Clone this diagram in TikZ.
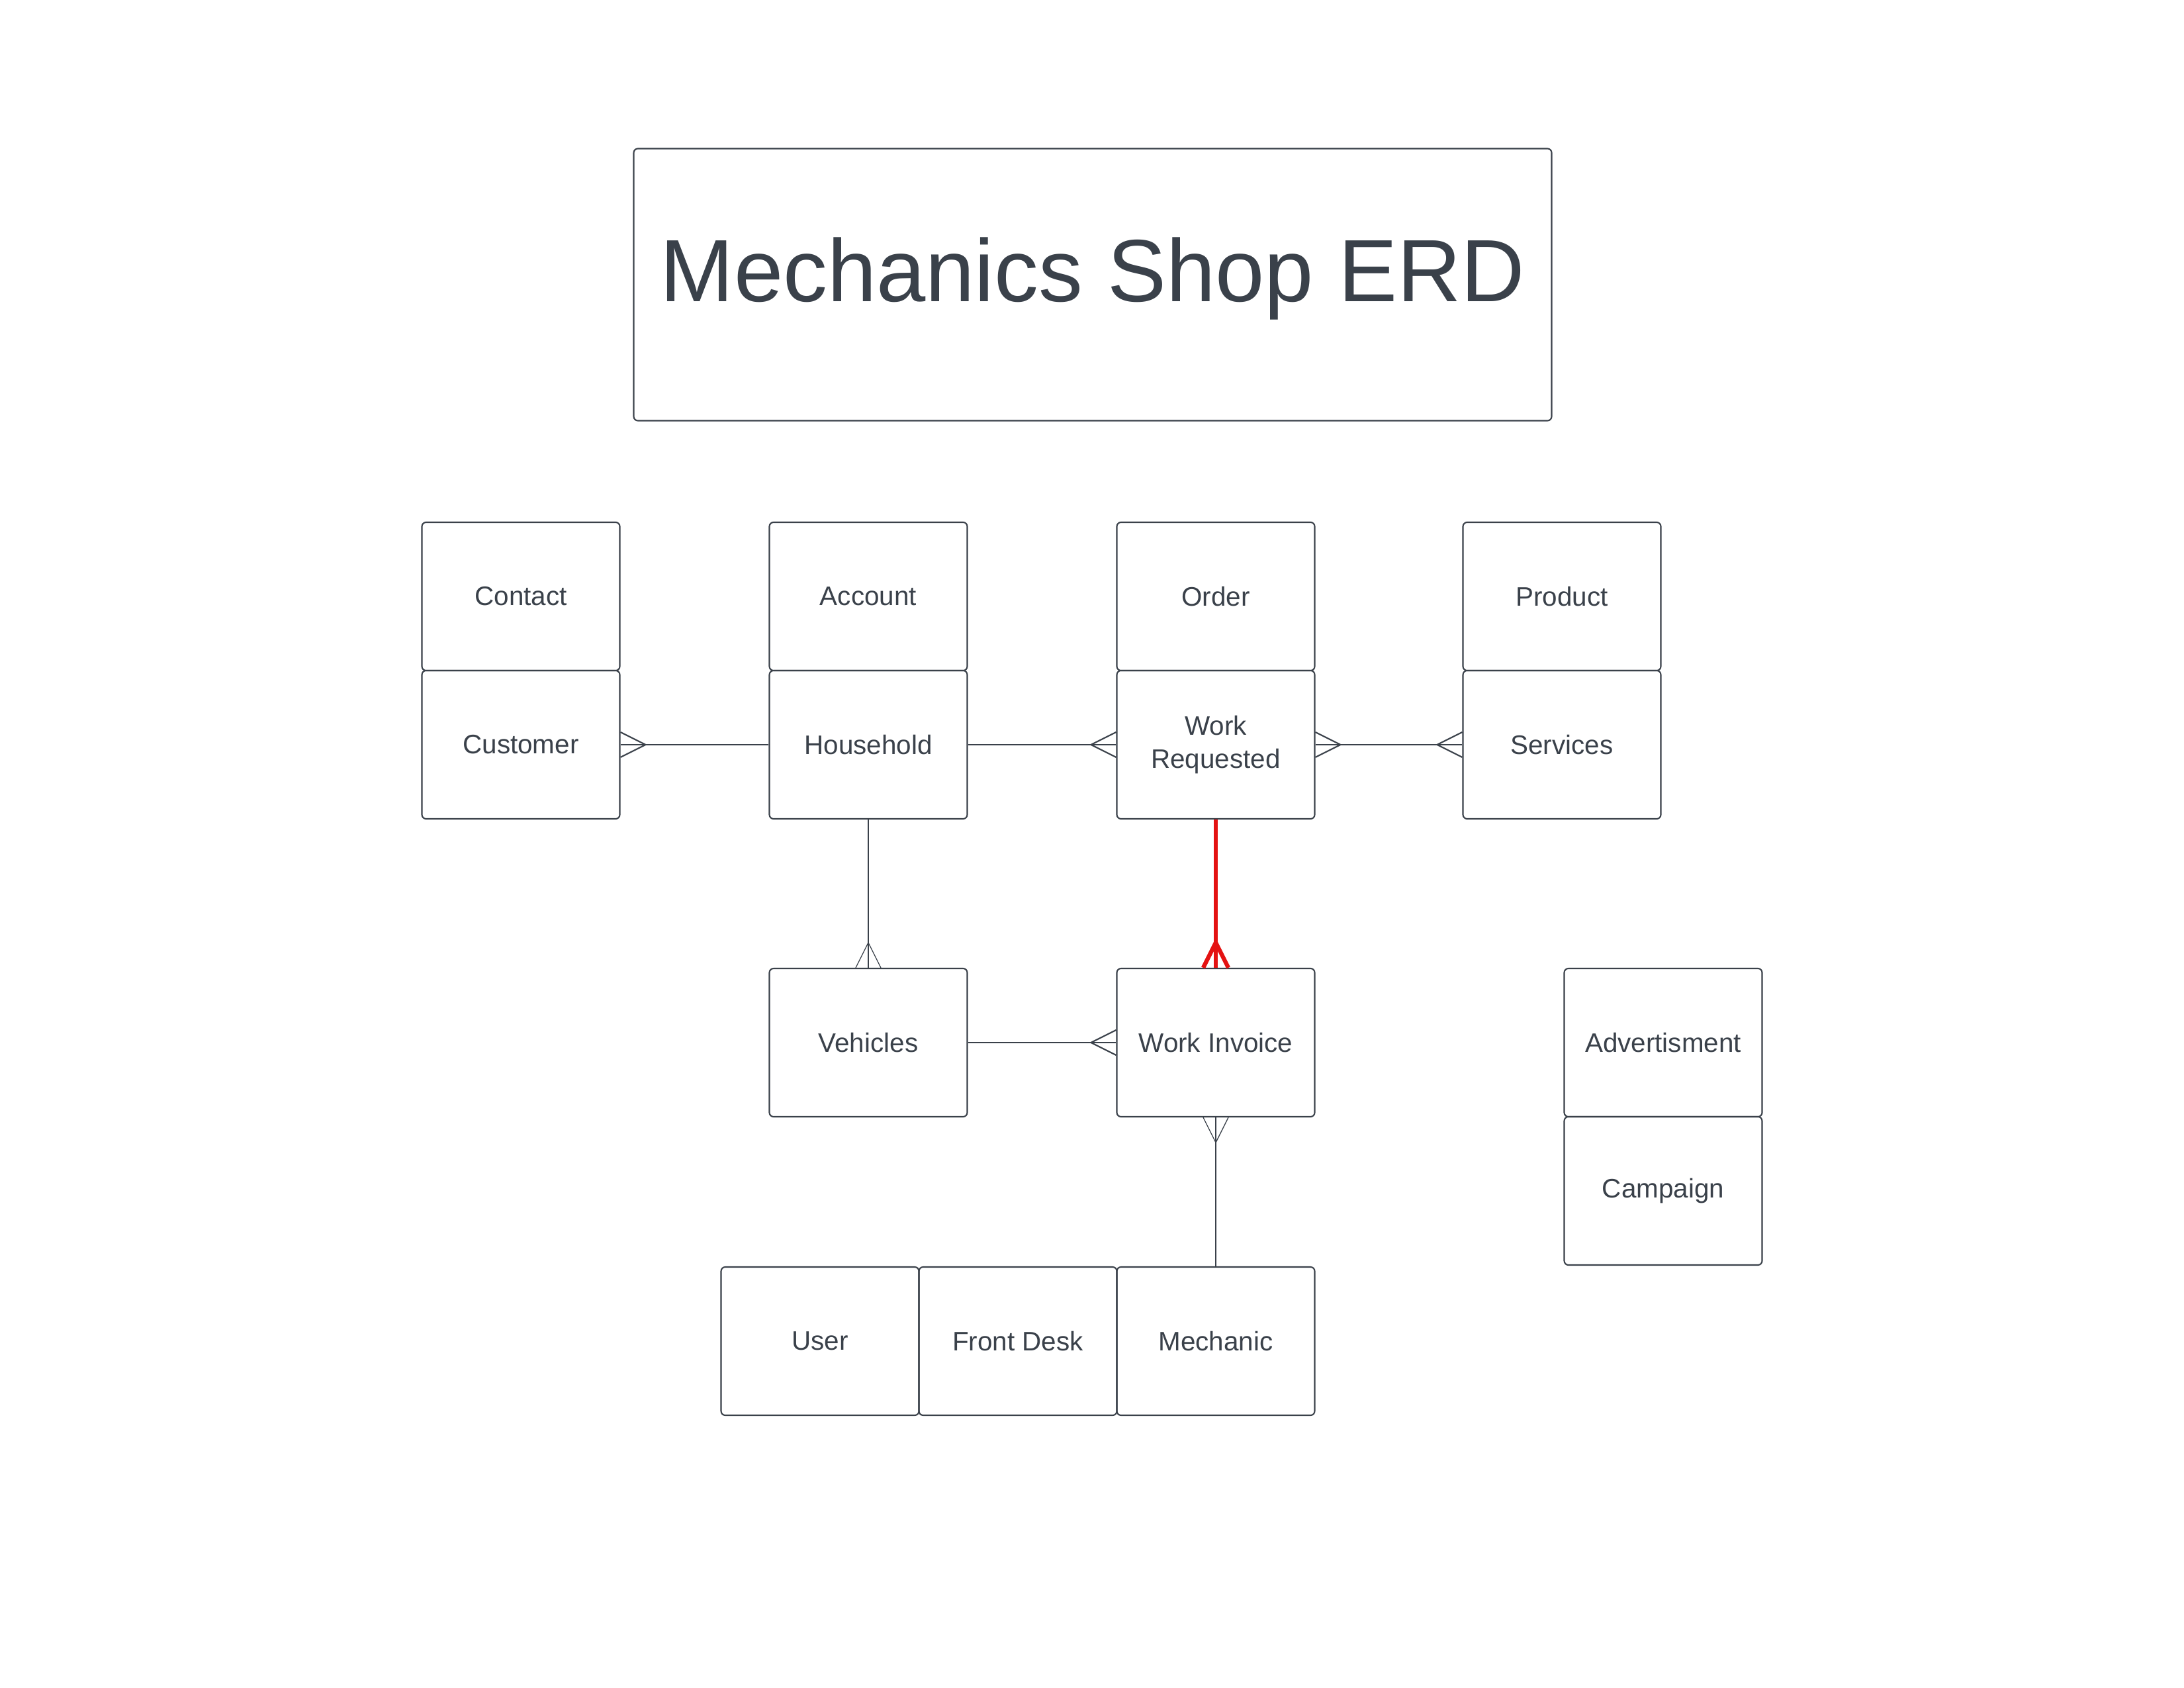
\documentclass[tikz,border=0pt]{standalone}
\usepackage{fontspec}
\setmainfont{Liberation Sans}
\definecolor{erdgray}{RGB}{58,65,74}
\definecolor{erdred}{RGB}{228,18,18}

\begin{document}
\begin{tikzpicture}[
    entity/.style={draw=erdgray, line width=0.6pt, rounded corners=1.8pt,
      minimum width=2.99cm, minimum height=2.24cm, inner sep=0pt,
      align=center, text=erdgray, font=\fontsize{11.5}{14.2}\selectfont},
    rel/.style={draw=erdgray, line width=0.6pt},
    thinrel/.style={draw=erdgray, line width=0.35pt},
    crow/.pic={\draw (0,0.19) -- (0.38,0) -- (0,-0.19);}
  ]
  \useasboundingbox (0,0) rectangle (33,-25.5);
  % title
  \node[entity, minimum width=13.87cm, minimum height=4.11cm, text depth=0.45cm,
    font=\fontsize{38}{44}\selectfont] (title) at (16.51,-4.30) {Mechanics Shop ERD};
  % entities
  \node[entity] (contact) at (7.87,-9.01) {Contact};
  \node[entity] (customer) at (7.87,-11.25) {Customer};
  \node[entity] (account) at (13.12,-9.01) {Account};
  \node[entity] (household) at (13.12,-11.25) {Household};
  \node[entity] (order) at (18.37,-9.01) {Order};
  \node[entity] (workreq) at (18.37,-11.25) {Work\\Requested};
  \node[entity] (product) at (23.60,-9.01) {Product};
  \node[entity] (services) at (23.60,-11.25) {Services};
  \node[entity] (vehicles) at (13.12,-15.75) {Vehicles};
  \node[entity] (workinv) at (18.37,-15.75) {Work Invoice};
  \node[entity] (advert) at (25.13,-15.75) {Advertisment};
  \node[entity] (campaign) at (25.13,-17.99) {Campaign};
  \node[entity] (user) at (12.39,-20.26) {User};
  \node[entity] (frontdesk) at (15.38,-20.26) {Front Desk};
  \node[entity] (mechanic) at (18.37,-20.26) {Mechanic};
  % relations
  \draw[rel] (customer.east) -- (household.west);
  \draw[rel] (household.east) -- (workreq.west);
  \draw[rel] (workreq.east) -- (services.west);
  \draw[rel] (vehicles.east) -- (workinv.west);
  \draw[thinrel] (household.south) -- (vehicles.north);
  \draw[thinrel] (workinv.south) -- (mechanic.north);
  \draw[erdred, line width=1.8pt] (workreq.south) -- (workinv.north);
  % crow's feet
  \pic[erdgray, line width=0.6pt] at (customer.east) {crow};
  \pic[erdgray, line width=0.6pt, rotate=180] at (workreq.west) {crow};
  \pic[erdgray, line width=0.6pt] at (workreq.east) {crow};
  \pic[erdgray, line width=0.6pt, rotate=180] at (services.west) {crow};
  \pic[erdgray, line width=0.6pt, rotate=180] at (workinv.west) {crow};
  \pic[erdgray, line width=0.35pt, rotate=90] at (vehicles.north) {crow};
  \pic[erdgray, line width=0.35pt, rotate=-90] at (workinv.south) {crow};
  \pic[erdred, line width=1.8pt, rotate=90] at (workinv.north) {crow};
\end{tikzpicture}
\end{document}
